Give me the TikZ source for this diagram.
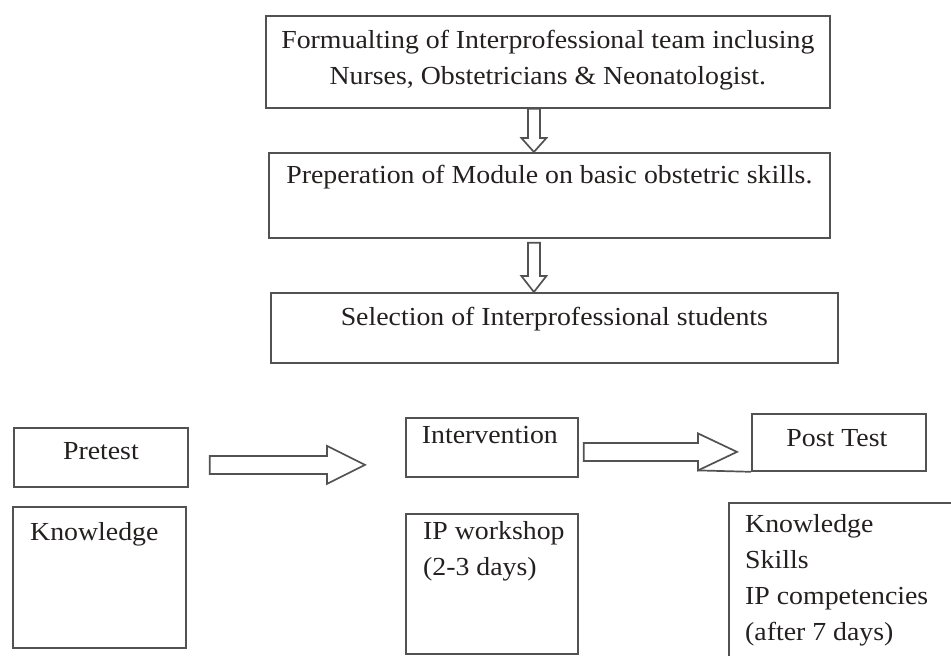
\documentclass[tikz,border=0pt]{standalone}
\usepackage{fontspec}
\setmainfont[FakeStretch=1.07]{Liberation Serif}
\usetikzlibrary{positioning,calc}
\definecolor{FrameGrey}{RGB}{82,82,82}
\definecolor{InkGrey}{RGB}{36,32,32}
\tikzset{
  box/.style={draw=FrameGrey,line width=1.8pt,fill=white,anchor=north west,inner sep=0pt},
  txt/.style={inner sep=0pt,text=InkGrey,font=\fontsize{26}{36}\selectfont},
  hollow/.style={draw=FrameGrey,line width=1.7pt,fill=white,line join=miter}
}
\begin{document}
\begin{tikzpicture}[x=1pt,y=-1pt]
  \useasboundingbox (0,0) rectangle (951,656);
  \clip (0,0) rectangle (951,656);
  % preparation steps
  \node[box,minimum width=564pt,minimum height=92pt] (team) at (265,15) {};
  \node[txt,align=center,below=15pt of team.north] (teamtext)
    {Formualting of Interprofessional team inclusing\\Nurses, Obstetricians \& Neonatologist.};
  \node[box,minimum width=561pt,minimum height=85pt] (module) at (268,152) {};
  \node[txt,below=13pt of module.north] (moduletext) {Preperation of Module on basic obstetric skills.};
  \node[box,minimum width=567pt,minimum height=70pt] (select) at (270,292) {};
  \node[txt,below=15pt of select.north] (selecttext) {Selection of Interprofessional students};
  % study phases
  \node[box,minimum width=174pt,minimum height=59pt] (pre) at (13,427) {};
  \node[txt,below=15pt of pre.north] (pretext) {Pretest};
  \node[box,minimum width=173pt,minimum height=141pt] (preknow) at (12,506) {};
  \node[txt,anchor=north west] (preknowtext) at (30,522) {Knowledge};
  \node[box,minimum width=172pt,minimum height=59pt] (interv) at (405,417) {};
  \node[txt,below=9pt of interv.north,xshift=-2pt] (intervtext) {Intervention};
  \node[box,minimum width=172pt,minimum height=140pt] (ipws) at (405,513) {};
  \node[txt,anchor=north west,align=left] (ipwstext) at (423,521) {IP workshop\\(2-3 days)};
  \node[box,minimum width=174pt,minimum height=57pt] (post) at (751,413) {};
  \node[txt,below=16pt of post.north,xshift=-2pt] (posttext) {Post Test};
  \node[box,minimum width=250pt,minimum height=180pt] (postknow) at (728,502) {};
  \node[txt,anchor=north west,align=left] (postknowtext) at (745,514)
    {Knowledge\\Skills\\IP competencies\\(after 7 days)};
  % block arrows
  \coordinate (a1s) at ($(team.south)+(-14,0)$);
  \coordinate (a1e) at (a1s |- module.north);
  \draw[hollow] ($(a1s)+(-6,0)$) -- ($(a1e)+(-6,-14)$) -- ($(a1e)+(-12.5,-14)$) -- (a1e)
    -- ($(a1e)+(12.5,-14)$) -- ($(a1e)+(6,-14)$) -- ($(a1s)+(6,0)$) -- cycle;
  \coordinate (a2s) at ($(module.south)+(-15.5,4)$);
  \coordinate (a2e) at (a2s |- select.north);
  \draw[hollow] ($(a2s)+(-6,0)$) -- ($(a2e)+(-6,-16)$) -- ($(a2e)+(-12.5,-16)$) -- (a2e)
    -- ($(a2e)+(12.5,-16)$) -- ($(a2e)+(6,-16)$) -- ($(a2s)+(6,0)$) -- cycle;
  \coordinate (a3s) at ($(pre.east)+(21,7.5)$);
  \coordinate (a3e) at ($(interv.west)+(-40,17.5)$);
  \draw[hollow] ($(a3s)+(0,-9)$) -- ($(a3e)+(-38,-9)$) -- ($(a3e)+(-38,-19)$) -- (a3e)
    -- ($(a3e)+(-38,19)$) -- ($(a3e)+(-38,9)$) -- ($(a3s)+(0,9)$) -- cycle;
  \coordinate (a4s) at ($(interv.east)+(5,4.5)$);
  \coordinate (a4e) at ($(post.west)+(-14,9.5)$);
  \draw[hollow] ($(a4s)+(0,-9)$) -- ($(a4e)+(-39,-9)$) -- ($(a4e)+(-39,-18.5)$) -- (a4e)
    -- ($(a4e)+(-39,18.5)$) -- ($(a4e)+(-39,9)$) -- ($(a4s)+(0,9)$) -- cycle;
  \draw[hollow] ($(a4e)+(-39,18.5)$) -- (post.south west);
\end{tikzpicture}
\end{document}
